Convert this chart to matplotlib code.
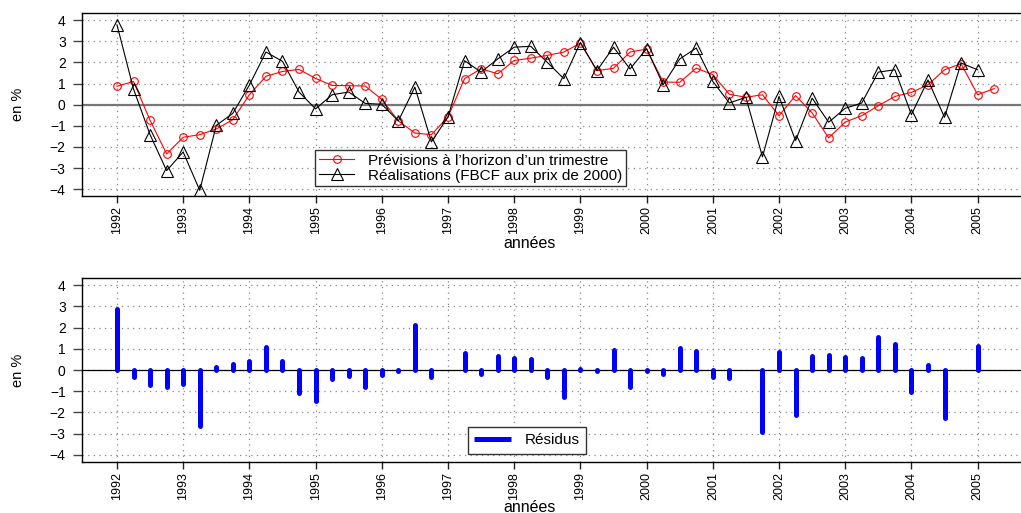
import numpy as np
import matplotlib
matplotlib.use("Agg")
import matplotlib.pyplot as plt

plt.rcParams['font.family'] = ['Liberation Sans', 'DejaVu Sans']

# quarterly data, starting 1992 Q1
start_year = 1992
years = list(range(1992, 2006))

prev = [0.87, 1.10, -0.74, -2.33, -1.54, -1.42, -1.15, -0.71, 0.47, 1.34,
        1.57, 1.67, 1.24, 0.91, 0.90, 0.88, 0.25, -0.77, -1.34, -1.42,
        -0.58, 1.23, 1.70, 1.46, 2.09, 2.20, 2.33, 2.49, 2.91, 1.61,
        1.72, 2.49, 2.63, 1.07, 1.06, 1.73, 1.42, 0.49, 0.35, 0.47,
        -0.52, 0.43, -0.39, -1.57, -0.82, -0.52, -0.05, 0.39, 0.58, 0.94,
        1.65, 1.94, 0.47, 0.76]

real = [3.78, 0.74, -1.42, -3.12, -2.24, -4.05, -0.98, -0.41, 0.93, 2.49,
        2.05, 0.60, -0.20, 0.47, 0.60, 0.06, 0.02, -0.77, 0.83, -1.76,
        -0.58, 2.08, 1.54, 2.16, 2.72, 2.76, 2.00, 1.23, 2.94, 1.61,
        2.72, 1.69, 2.65, 0.94, 2.16, 2.68, 1.10, 0.08, 0.35, -2.47,
        0.39, -1.70, 0.31, -0.83, -0.17, 0.08, 1.54, 1.65, -0.47, 1.17,
        -0.60, 1.97, 1.65]

resid = [2.88, -0.35, -0.70, -0.82, -0.68, -2.62, 0.15, 0.28, 0.42, 1.10,
         0.44, -1.06, -1.45, -0.42, -0.29, -0.81, -0.25, -0.03, 2.12, -0.34,
         0.02, 0.80, -0.19, 0.66, 0.58, 0.51, -0.32, -1.27, 0.03, -0.05,
         0.95, -0.80, -0.03, -0.17, 1.05, 0.91, -0.33, -0.40, 0.01, -2.94,
         0.87, -2.14, 0.64, 0.70, 0.62, 0.55, 1.54, 1.22, -1.05, 0.22,
         -2.24, 0.02, 1.12]

t_prev = start_year + np.arange(len(prev)) / 4
t_real = start_year + np.arange(len(real)) / 4
t_res = start_year + np.arange(len(resid)) / 4

fig = plt.figure(figsize=(10.21, 5.13), dpi=100)
ax1 = fig.add_axes([0.0800, 0.6179, 0.9294, 0.3561])
ax2 = fig.add_axes([0.0800, 0.1000, 0.9294, 0.3575])

def style(ax):
    ax.set_xlim(1991.467, 2005.8)
    ax.set_ylim(-4.32, 4.32)
    ax.set_yticks(range(-4, 5))
    ax.set_xticks(years)
    ax.set_xticklabels([str(y) for y in years], rotation=90)
    ax.tick_params(axis='y', length=6.5, width=1, color='#444444', pad=5, labelsize=10)
    ax.tick_params(axis='x', length=5, width=1, color='#222222', pad=2.5, labelsize=9)
    for y in range(-4, 5):
        ax.axhline(y, color='#888888', lw=0.9, ls=(0, (1, 3.5)), zorder=0)
    for yr in years:
        ax.axvline(yr, color='#888888', lw=0.9, ls=(0, (1, 3.5)), zorder=0)
    for s in ax.spines.values():
        s.set_linewidth(1)
        s.set_color('black')
    ax.spines['right'].set_visible(False)

style(ax1)
style(ax2)

# top panel
ax1.axhline(0, color='#777777', lw=1.6, zorder=1)
ax1.plot(t_prev, prev, color='red', lw=0.8, marker='o', ms=5.5, mfc='none',
         mec='red', mew=0.8, label="Prévisions à l\u2019horizon d\u2019un trimestre", zorder=3)
ax1.plot(t_real, real, color='black', lw=0.8, marker='^', ms=8, mfc='none',
         mec='black', mew=0.8, label="Réalisations (FBCF aux prix de 2000)", zorder=4)
leg1 = ax1.legend(loc='upper left', bbox_to_anchor=(0.246, 0.252), borderaxespad=0,
                  fontsize=11, fancybox=False, framealpha=1, edgecolor='#333333',
                  handlelength=2.3, handletextpad=0.9, borderpad=0.25, labelspacing=0.05)
leg1.get_frame().set_linewidth(1)

# bottom panel
ax2.axhline(0, color='black', lw=0.9, zorder=1)
lc = ax2.vlines(t_res, 0, resid, colors='blue', lw=3.6, zorder=3, label='Résidus')
lc.set_capstyle('round')
leg2 = ax2.legend(loc='upper left', bbox_to_anchor=(0.407, 0.1876), borderaxespad=0,
                  fontsize=11, fancybox=False, framealpha=1, edgecolor='#333333',
                  handlelength=2.4, handletextpad=0.9, borderpad=0.4)
leg2.get_frame().set_linewidth(1)

fig.text(18 / 1021, 0.796, "en %", rotation=90, ha='center', va='center', fontsize=10.5)
fig.text(18 / 1021, 0.2788, "en %", rotation=90, ha='center', va='center', fontsize=10.5)
fig.text(530 / 1021, 1 - 244 / 513, "années", ha='center', va='center', fontsize=11.5)
fig.text(530 / 1021, 1 - 507 / 513, "années", ha='center', va='center', fontsize=11.5)

fig.savefig("out.png", dpi=100)
